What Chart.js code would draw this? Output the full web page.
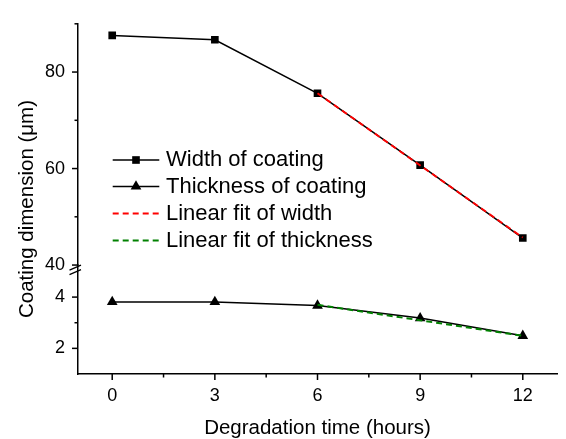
<!DOCTYPE html>
<html><head><meta charset="utf-8">
<script src="https://cdn.jsdelivr.net/npm/chart.js@4"></script>
<style>html,body{margin:0;padding:0;background:#fff}#wrap{width:566px;height:439px}</style>
</head><body><div id="wrap"><canvas id="c" width="566" height="439"></canvas></div>
<script>
const hours = [0, 3, 6, 9, 12];
const widthValues = [87.6, 86.7, 75.6, 60.7, 45.6];
const thicknessValues = [3.81, 3.81, 3.67, 3.18, 2.49];
const fitHours = [6, 12];
const widthFitValues = [75.6, 45.7];
const thicknessFitValues = [3.70, 2.49];
const xMajorTicks = [0, 3, 6, 9, 12];
const xMinorTicks = [1.5, 4.5, 7.5, 10.5];
const upperMajorTicks = [40, 60, 80];
const upperMinorTicks = [50, 70, 90];
const lowerMajorTicks = [2, 4];
const lowerMinorTicks = [3];
const seriesLabels = ['Width of coating', 'Thickness of coating', 'Linear fit of width', 'Linear fit of thickness'];
const xTitle = 'Degradation time (hours)';
const yTitle = 'Coating dimension (\u03bcm)';

const FONT = '"Liberation Sans", Arial, sans-serif';
Chart.defaults.font.family = FONT;
Chart.defaults.color = '#000';

const toXY = (xs, ys) => xs.map((x, i) => ({x: x, y: ys[i]}));

const datasets = [
  {label: seriesLabels[2], data: toXY(fitHours, widthFitValues), yAxisID: 'yUpper', borderColor: '#ff0000',
   borderWidth: 2, borderDash: [6, 4], pointRadius: 0, order: 0},
  {label: seriesLabels[3], data: toXY(fitHours, thicknessFitValues), yAxisID: 'yLower', borderColor: '#008000',
   borderWidth: 2, borderDash: [6, 4], pointRadius: 0, order: 0},
  {label: seriesLabels[0], data: toXY(hours, widthValues), yAxisID: 'yUpper', borderColor: '#000', backgroundColor: '#000',
   borderWidth: 1.5, pointStyle: 'rect', pointRadius: 5.4, pointBorderWidth: 0, order: 1},
  {label: seriesLabels[1], data: toXY(hours, thicknessValues), yAxisID: 'yLower', borderColor: '#000', backgroundColor: '#000',
   borderWidth: 1.5, pointStyle: 'triangle', pointRadius: 6.2, pointBorderWidth: 0, order: 1}
];

function setTicks(arr) { return s => { s.ticks = arr.map(v => ({value: v})); }; }

const tickFont = {size: 18};
const axisBorder = {display: true, color: '#000', width: 1.5};

const decor = {
  id: 'decor',
  afterDraw(chart) {
    const ctx = chart.ctx;
    const ca = chart.chartArea;
    const sx = chart.scales.x, su = chart.scales.yUpper, sl = chart.scales.yLower;
    ctx.save();
    ctx.strokeStyle = '#000';
    ctx.lineWidth = 1.5;
    // x ticks
    const xt = (v, len) => { const p = sx.getPixelForValue(v); ctx.beginPath(); ctx.moveTo(p, ca.bottom); ctx.lineTo(p, ca.bottom + len); ctx.stroke(); };
    xMajorTicks.forEach(v => xt(v, 6));
    xMinorTicks.forEach(v => xt(v, 3.5));
    const yt = (s, v, len) => { const p = s.getPixelForValue(v); ctx.beginPath(); ctx.moveTo(ca.left, p); ctx.lineTo(ca.left - len, p); ctx.stroke(); };
    upperMajorTicks.forEach(v => yt(su, v, 6));
    upperMinorTicks.forEach(v => yt(su, v, 3.5));
    lowerMajorTicks.forEach(v => yt(sl, v, 6));
    lowerMinorTicks.forEach(v => yt(sl, v, 3.5));
    // axis break marks
    const b = su.bottom;
    ctx.lineWidth = 1.3;
    ctx.beginPath();
    ctx.moveTo(ca.left - 8.5, b + 5); ctx.lineTo(ca.left + 3, b);
    ctx.moveTo(ca.left - 8.5, b + 9.5); ctx.lineTo(ca.left + 3, b + 4.6);
    ctx.stroke();
    // legend
    const rows = [160, 186.5, 213.5, 240.5];
    const items = [datasets[2], datasets[3], datasets[0], datasets[1]];
    const x0 = 112.7, x1 = 159.3, tx = 166;
    ctx.font = '22px ' + FONT;
    ctx.textBaseline = 'middle';
    ctx.textAlign = 'left';
    ctx.fillStyle = '#000';
    items.forEach((d, i) => {
      const y = rows[i];
      ctx.save();
      ctx.strokeStyle = d.borderColor;
      ctx.lineWidth = d.borderWidth;
      ctx.setLineDash(d.borderDash || []);
      ctx.beginPath(); ctx.moveTo(x0, y); ctx.lineTo(x1, y); ctx.stroke();
      ctx.restore();
      if (d.pointRadius > 0) {
        ctx.save();
        ctx.fillStyle = d.backgroundColor; ctx.strokeStyle = d.borderColor;
        Chart.helpers.drawPoint(ctx, {pointStyle: d.pointStyle, radius: d.pointRadius, borderWidth: 0, rotation: 0}, (x0 + x1) / 2, y);
        ctx.restore();
      }
      ctx.fillText(d.label, tx, y);
    });
    // titles
    ctx.font = '20.5px ' + FONT;
    ctx.textAlign = 'center';
    ctx.fillText(xTitle, (ca.left + ca.right) / 2, 428);
    ctx.save();
    ctx.translate(27, 209);
    ctx.rotate(-Math.PI / 2);
    ctx.fillText(yTitle, 0, 0);
    ctx.restore();
    ctx.restore();
  }
};

new Chart(document.getElementById('c'), {
  type: 'line',
  data: {datasets: datasets},
  options: {
    responsive: false,
    devicePixelRatio: 1,
    animation: false,
    layout: {padding: {top: 22, right: 9, left: 0, bottom: 0}},
    plugins: {legend: {display: false}, tooltip: {enabled: false}},
    scales: {
      x: {type: 'linear', min: -1, max: 13, afterBuildTicks: setTicks(xMajorTicks),
          afterFit: s => { s.height = 65; },
          grid: {display: false, drawTicks: false}, border: axisBorder,
          ticks: {padding: 11, font: tickFont, color: '#000'}},
      yLower: {type: 'linear', position: 'left', stack: 'y', stackWeight: 109.6, min: 1, max: 5.25,
          afterBuildTicks: setTicks(lowerMajorTicks), afterFit: s => { s.width = 78; },
          grid: {display: false, drawTicks: false}, border: axisBorder,
          ticks: {padding: 13, font: tickFont, color: '#000'}},
      yUpper: {type: 'linear', position: 'left', stack: 'y', stackWeight: 242.7, min: 40, max: 90,
          afterBuildTicks: setTicks(upperMajorTicks), afterFit: s => { s.width = 78; },
          grid: {display: false, drawTicks: false}, border: axisBorder,
          ticks: {padding: 13, font: tickFont, color: '#000'}}
    }
  },
  plugins: [decor]
});
</script>
</body></html>
